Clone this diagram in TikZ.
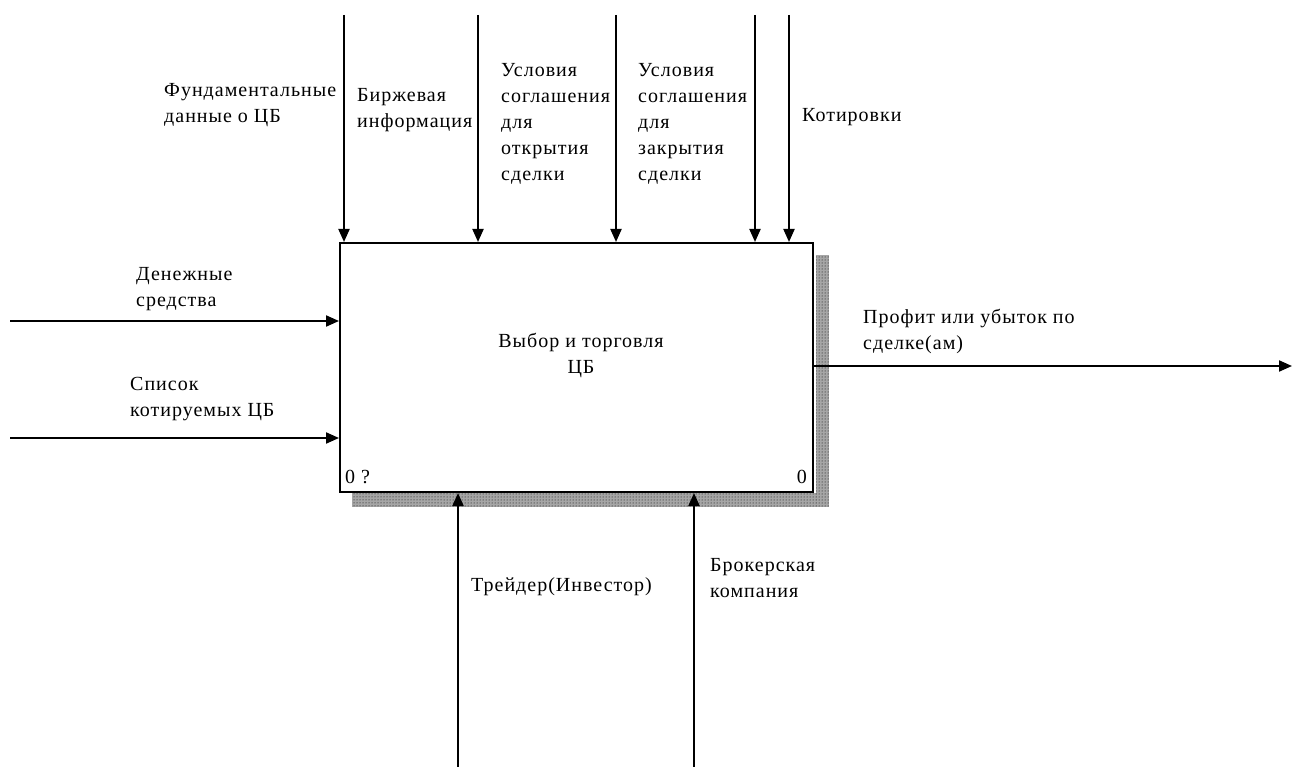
\documentclass[tikz,border=0pt]{standalone}
\usepackage{fontspec}
\setmainfont{Liberation Serif}[LetterSpace=5]
\usetikzlibrary{arrows.meta,patterns}
\begin{document}
\begin{tikzpicture}[x=1pt,y=-1pt,
  flow/.style={line width=2pt,-{Triangle[length=13pt,width=11pt]}},
  lbl/.style={anchor=base west,inner sep=0pt,align=left,font=\fontsize{20}{26}\selectfont},
  shadow/.style={pattern=dots,pattern color=black,draw=none}]
\useasboundingbox (0,0) rectangle (1292,767);

% drop shadow of the activity box
\fill[black!35] (816,255) rectangle (829,507);
\fill[black!35] (352,493) rectangle (829,507);
\path[shadow] (816,255) rectangle (829,507);
\path[shadow] (352,493) rectangle (816,507);

% activity box
\node[draw,line width=2pt,fill=white,minimum width=473pt,minimum height=249pt,
      inner sep=0pt,anchor=north west] (act) at (339,242) {};
% multi-line labels are placed by the baseline of their last line
\node[lbl,anchor=base,align=center] (actname) at (581,373) {Выбор и торговля\\ЦБ};
\node[lbl] (num) at (345,483) {0 ?};
\node[lbl,anchor=base east] (node0) at (807,483) {0};

% free ends of the connectors
\coordinate (c1) at (344,15);
\coordinate (c2) at (478,15);
\coordinate (c3) at (616,15);
\coordinate (c4) at (755,15);
\coordinate (c5) at (789,15);
\coordinate (i1) at (10,321);
\coordinate (i2) at (10,438);
\coordinate (o1) at (1292,366);
\coordinate (m1) at (458,767);
\coordinate (m2) at (694,767);

% controls
\draw[flow] (c1) -- (c1 |- act.north);
\draw[flow] (c2) -- (c2 |- act.north);
\draw[flow] (c3) -- (c3 |- act.north);
\draw[flow] (c4) -- (c4 |- act.north);
\draw[flow] (c5) -- (c5 |- act.north);
% inputs
\draw[flow] (i1) -- (i1 -| act.west);
\draw[flow] (i2) -- (i2 -| act.west);
% output
\draw[flow] (o1 -| act.east) -- (o1);
% mechanisms
\draw[flow] (m1) -- (m1 |- act.south);
\draw[flow] (m2) -- (m2 |- act.south);

% connector labels
\node[lbl] (t1) at (164,123) {Фундаментальные\\данные о ЦБ};
\node[lbl] (t2) at (357,128) {Биржевая\\информация};
\node[lbl] (t3) at (501,181) {Условия\\соглашения\\для\\открытия\\сделки};
\node[lbl] (t4) at (638,181) {Условия\\соглашения\\для\\закрытия\\сделки};
\node[lbl] (t5) at (802,122) {Котировки};
\node[lbl] (t6) at (136,306) {Денежные\\средства};
\node[lbl] (t7) at (130,416) {Список\\котируемых ЦБ};
\node[lbl] (t8) at (863,349) {Профит или убыток по\\сделке(ам)};
\node[lbl] (t9) at (471,591) {Трейдер(Инвестор)};
\node[lbl] (t10) at (710,597) {Брокерская\\компания};
\end{tikzpicture}
\end{document}
